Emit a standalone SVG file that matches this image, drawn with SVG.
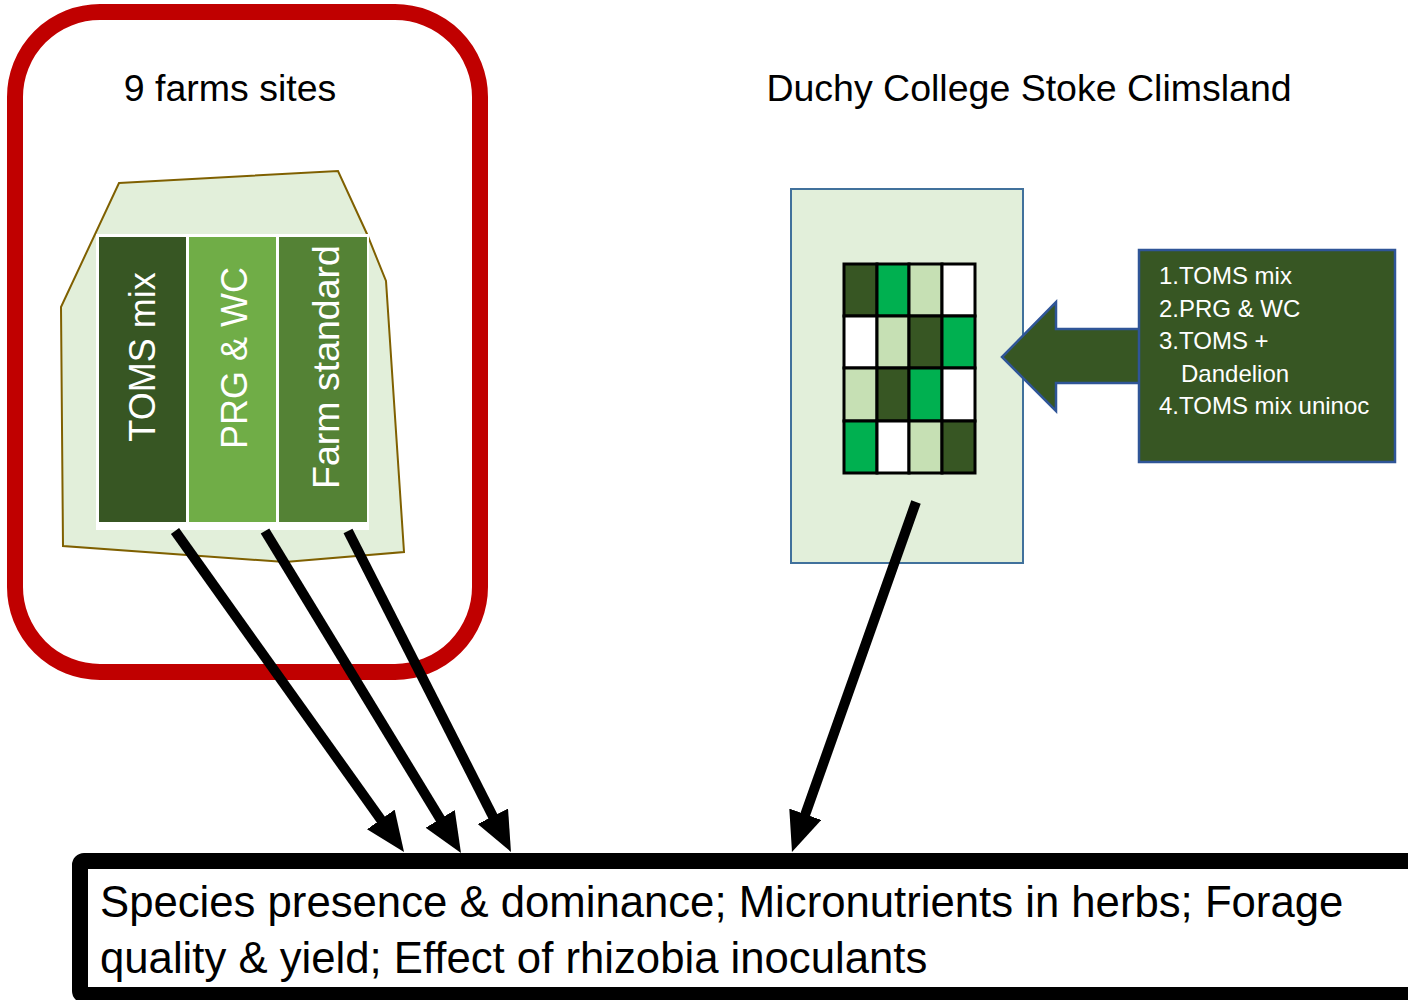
<svg xmlns="http://www.w3.org/2000/svg" width="1408" height="1000" viewBox="0 0 1408 1000">
<defs>
<style>
text{font-family:"Liberation Sans",Arial,sans-serif;}
.title{font-size:37.5px;fill:#000;text-anchor:middle;}
.vert{font-size:36px;fill:#fff;text-anchor:middle;}
.lst{font-size:24px;fill:#fff;}
.out{font-size:43.7px;fill:#000;}
.cell{stroke:#000;stroke-width:3;}
.dk{fill:#375623;}.br{fill:#00B050;}.lt{fill:#C6E0B4;}.wh{fill:#fff;}
.conn{stroke:#000;stroke-width:10;fill:none;marker-end:url(#ah);}
</style>
<marker id="ah" markerUnits="userSpaceOnUse" markerWidth="40" markerHeight="34" refX="10" refY="17" orient="auto" viewBox="0 0 40 34">
<path d="M0,0 L40,17 L0,34 z" fill="#000"/>
</marker>
</defs>
<rect width="1408" height="1000" fill="#fff"/>

<g id="farms">
<rect x="15" y="12" width="465" height="660" rx="85" ry="85" fill="none" stroke="#C00000" stroke-width="16"/>
<text class="title" x="230" y="101">9 farms sites</text>
<polygon points="119,183 338,171 367,234 386,281 404,552 285,562 63,546 61,307" fill="#E2EFDA" stroke="#7F6000" stroke-width="2"/>
<rect x="96" y="234" width="273" height="296" fill="#fff"/>
<rect x="99" y="237" width="87" height="285" fill="#375623"/>
<rect x="189" y="237" width="87" height="285" fill="#70AD47"/>
<rect x="279" y="237" width="88" height="285" fill="#548235"/>
<text class="vert" x="155" y="357" transform="rotate(-90 155 357)">TOMS mix</text>
<text class="vert" x="247" y="358" transform="rotate(-90 247 358)">PRG &amp; WC</text>
<text class="vert" x="339" y="367" transform="rotate(-90 339 367)" style="font-size:37.5px">Farm standard</text>
</g>

<g id="duchy">
<text class="title" x="1029" y="101">Duchy College Stoke Climsland</text>
<rect x="791" y="189" width="232" height="374" fill="#E2EFDA" stroke="#41719C" stroke-width="2"/>
<g id="grid">
<rect class="cell dk" x="844" y="264" width="33" height="52"/>
<rect class="cell br" x="877" y="264" width="32" height="52"/>
<rect class="cell lt" x="909" y="264" width="33" height="52"/>
<rect class="cell wh" x="942" y="264" width="33" height="52"/>
<rect class="cell wh" x="844" y="316" width="33" height="52"/>
<rect class="cell lt" x="877" y="316" width="32" height="52"/>
<rect class="cell dk" x="909" y="316" width="33" height="52"/>
<rect class="cell br" x="942" y="316" width="33" height="52"/>
<rect class="cell lt" x="844" y="368" width="33" height="53"/>
<rect class="cell dk" x="877" y="368" width="32" height="53"/>
<rect class="cell br" x="909" y="368" width="33" height="53"/>
<rect class="cell wh" x="942" y="368" width="33" height="53"/>
<rect class="cell br" x="844" y="421" width="33" height="52"/>
<rect class="cell wh" x="877" y="421" width="32" height="52"/>
<rect class="cell lt" x="909" y="421" width="33" height="52"/>
<rect class="cell dk" x="942" y="421" width="33" height="52"/>
</g>
</g>

<g id="treatments">
<polygon points="1140,329 1056,329 1056,302 1002,357 1056,411 1056,383 1140,383" fill="#375623" stroke="#2F5597" stroke-width="2.5"/>
<rect x="1139" y="250" width="256" height="212" fill="#375623" stroke="#2F5597" stroke-width="2.5"/>
<text class="lst" x="1159" y="284">1.TOMS mix</text>
<text class="lst" x="1159" y="317">2.PRG &amp; WC</text>
<text class="lst" x="1159" y="349">3.TOMS +</text>
<text class="lst" x="1181" y="382">Dandelion</text>
<text class="lst" x="1159" y="414">4.TOMS mix uninoc</text>
</g>

<g id="outcomes">
<rect x="80" y="861" width="1340" height="134" rx="4" fill="#fff" stroke="#000" stroke-width="16"/>
<text class="out" x="100" y="917">Species presence &amp; dominance; Micronutrients in herbs; Forage</text>
<text class="out" x="100" y="973">quality &amp; yield; Effect of rhizobia inoculants</text>
</g>

<g id="connectors">
<line class="conn" x1="175" y1="531" x2="386.6" y2="827.6"/>
<line class="conn" x1="265" y1="531" x2="445.4" y2="827.4"/>
<line class="conn" x1="348" y1="531" x2="497.4" y2="825.2"/>
<line class="conn" x1="916" y1="502" x2="802" y2="823.7"/>
</g>
</svg>
